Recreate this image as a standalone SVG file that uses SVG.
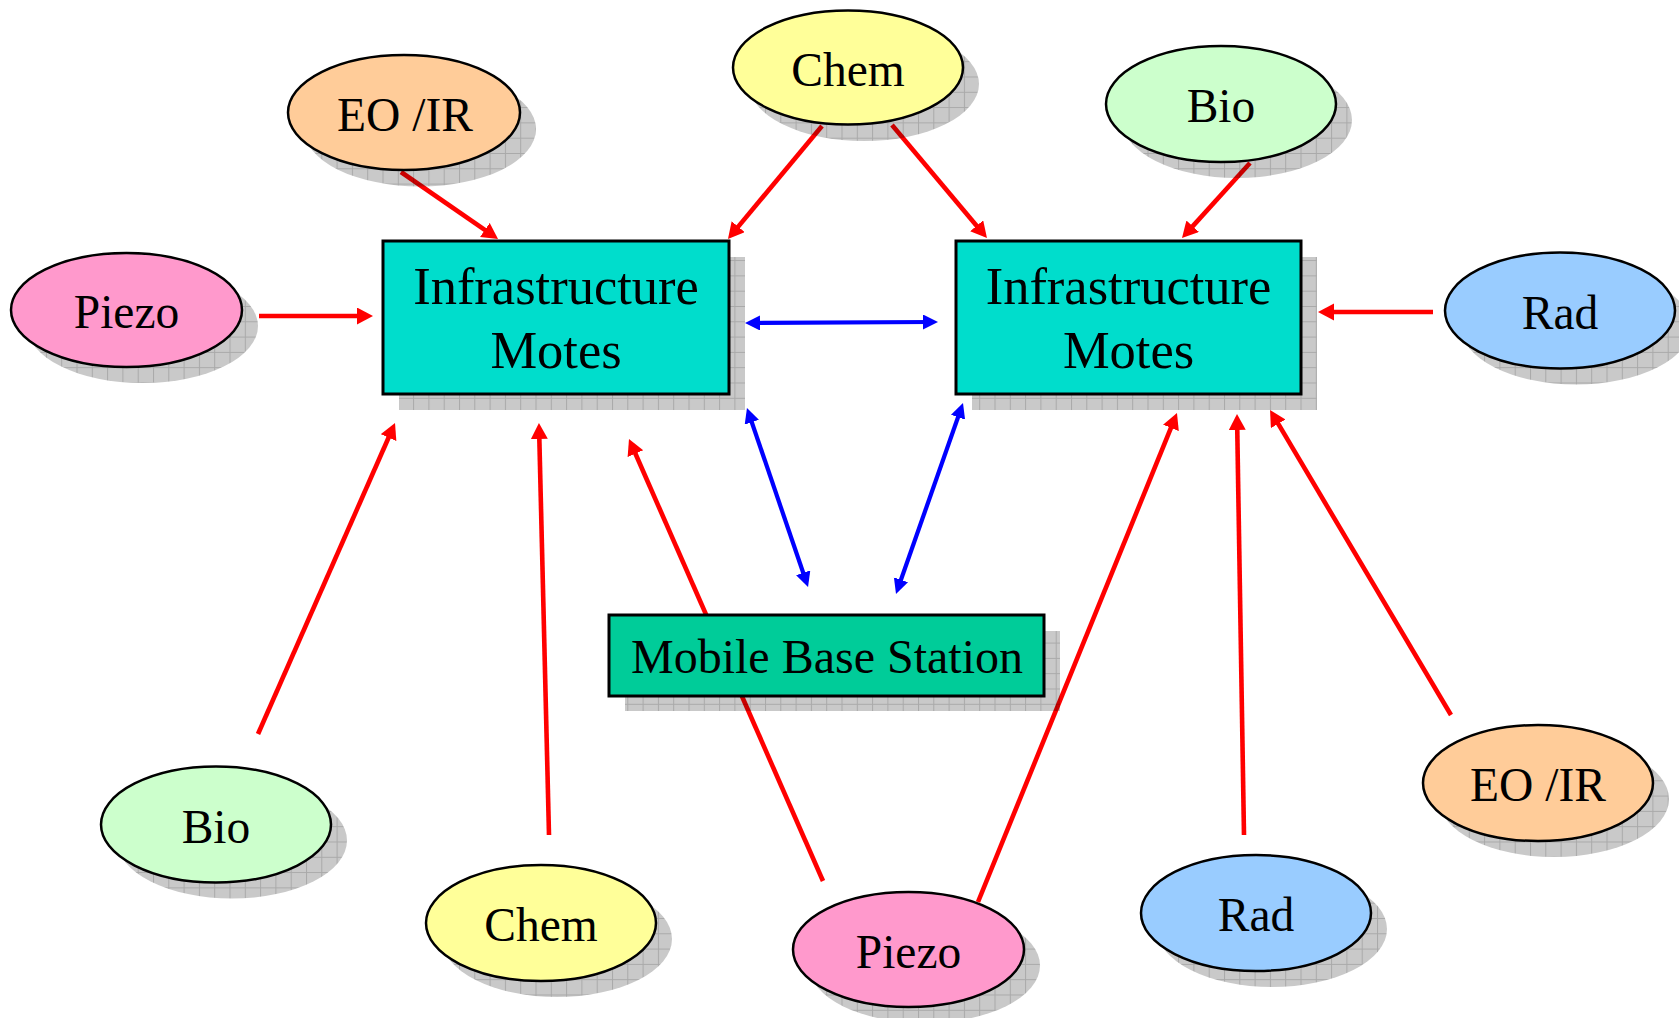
<svg xmlns="http://www.w3.org/2000/svg" width="1679" height="1018" viewBox="0 0 1679 1018">
<style>
.txt{font-family:"Liberation Serif","Times New Roman",serif;fill:#000;text-anchor:middle}
.big{font-size:52.5px}
.mid{font-size:48px}
.ell{font-size:47.5px}
.box{stroke:#000;stroke-width:3}
.oval{stroke:#000;stroke-width:2.5}
.shadow{fill:url(#grid)}
.red{stroke:#ff0000;stroke-width:4.6;fill:none;marker-end:url(#rh)}
.blue{stroke:#0000ff;stroke-width:4.2;fill:none;marker-start:url(#bh);marker-end:url(#bh)}
</style>
<defs>
<pattern id="grid" patternUnits="userSpaceOnUse" width="15.3" height="15.3">
<rect width="15.3" height="15.3" fill="#000" fill-opacity="0.21"/>
<path d="M0,0.5 H15.3 M0.5,0 V15.3" stroke="#000" stroke-opacity="0.16" stroke-width="1"/>
</pattern>
<marker id="rh" markerUnits="userSpaceOnUse" markerWidth="17" markerHeight="18" refX="10" refY="8.5" orient="auto">
<path d="M0,0 L16,8.5 L0,17 z" fill="#ff0000"/>
</marker>
<marker id="bh" markerUnits="userSpaceOnUse" markerWidth="17" markerHeight="16" refX="9" refY="7.5" orient="auto-start-reverse">
<path d="M0,0 L15,7.5 L0,15 z" fill="#0000ff"/>
</marker>
</defs>
<rect width="1679" height="1018" fill="#fff"/>

<g id="connectors">
<line class="red" x1="401" y1="172" x2="493.1" y2="235.6"/>
<line class="red" x1="822" y1="126" x2="731.8" y2="234.4"/>
<line class="red" x1="892" y1="125" x2="983.1" y2="233.4"/>
<line class="red" x1="1250" y1="163" x2="1186" y2="233.6"/>
<line class="red" x1="259" y1="316" x2="367" y2="316"/>
<line class="red" x1="1433" y1="312" x2="1324" y2="312"/>
<line class="red" x1="258" y1="734" x2="392.6" y2="428.5"/>
<line class="red" x1="549" y1="835" x2="539.1" y2="429"/>
<line class="red" x1="823" y1="881" x2="631.4" y2="444.5"/>
<line class="red" x1="978" y1="902" x2="1174.7" y2="418.6"/>
<line class="red" x1="1244" y1="835" x2="1237.1" y2="420"/>
<line class="red" x1="1451" y1="715" x2="1273.1" y2="415.2"/>
<line class="blue" x1="751" y1="323" x2="932" y2="322"/>
<line class="blue" x1="748.9" y1="413.7" x2="806.1" y2="581.3"/>
<line class="blue" x1="961" y1="408.7" x2="898" y2="588.3"/>
</g>

<g id="infra-left">
<rect class="shadow" x="399" y="257" width="346" height="153"/>
<rect class="box" x="383" y="241" width="346" height="153" fill="#00ddcc"/>
<text class="txt big" x="556" y="304">Infrastructure</text>
<text class="txt big" x="556" y="368">Motes</text>
</g>

<g id="infra-right">
<rect class="shadow" x="972" y="257" width="345" height="153"/>
<rect class="box" x="956" y="241" width="345" height="153" fill="#00ddcc"/>
<text class="txt big" x="1128.5" y="304">Infrastructure</text>
<text class="txt big" x="1128.5" y="368">Motes</text>
</g>

<g id="mobile-base">
<rect class="shadow" x="625" y="631" width="435" height="80"/>
<rect class="box" x="609" y="615" width="435" height="81" fill="#00cc99"/>
<text class="txt mid" x="827" y="673">Mobile Base Station</text>
</g>

<g id="eoir-top">
<ellipse class="shadow" cx="420" cy="129" rx="116" ry="57.5"/>
<ellipse class="oval" cx="404" cy="112.5" rx="116" ry="57.5" fill="#ffcc99"/>
<text class="txt ell" x="405" y="131">EO /IR</text>
</g>

<g id="chem-top">
<ellipse class="shadow" cx="864" cy="84" rx="115" ry="57"/>
<ellipse class="oval" cx="848" cy="67.5" rx="115" ry="57" fill="#ffff99"/>
<text class="txt ell" x="848" y="86">Chem</text>
</g>

<g id="bio-top">
<ellipse class="shadow" cx="1237" cy="120" rx="115" ry="58"/>
<ellipse class="oval" cx="1221" cy="104" rx="115" ry="58" fill="#ccffcc"/>
<text class="txt ell" x="1221" y="122">Bio</text>
</g>

<g id="piezo-left">
<ellipse class="shadow" cx="142.5" cy="326" rx="115.5" ry="57"/>
<ellipse class="oval" cx="126.5" cy="310" rx="115.5" ry="57" fill="#ff99cc"/>
<text class="txt ell" x="126.5" y="328">Piezo</text>
</g>

<g id="rad-right">
<ellipse class="shadow" cx="1576" cy="326.5" rx="115" ry="58"/>
<ellipse class="oval" cx="1560" cy="310.5" rx="115" ry="58" fill="#99ccff"/>
<text class="txt ell" x="1560" y="329">Rad</text>
</g>

<g id="bio-bottom">
<ellipse class="shadow" cx="232" cy="840.5" rx="115" ry="58"/>
<ellipse class="oval" cx="216" cy="824.5" rx="115" ry="58" fill="#ccffcc"/>
<text class="txt ell" x="216" y="843">Bio</text>
</g>

<g id="chem-bottom">
<ellipse class="shadow" cx="557" cy="939" rx="115" ry="58"/>
<ellipse class="oval" cx="541" cy="923" rx="115" ry="58" fill="#ffff99"/>
<text class="txt ell" x="541" y="941">Chem</text>
</g>

<g id="piezo-bottom">
<ellipse class="shadow" cx="924.5" cy="965.5" rx="115.5" ry="57.5"/>
<ellipse class="oval" cx="908.5" cy="949.5" rx="115.5" ry="57.5" fill="#ff99cc"/>
<text class="txt ell" x="908.5" y="968">Piezo</text>
</g>

<g id="rad-bottom">
<ellipse class="shadow" cx="1272" cy="929" rx="115" ry="58"/>
<ellipse class="oval" cx="1256" cy="913" rx="115" ry="58" fill="#99ccff"/>
<text class="txt ell" x="1256" y="931">Rad</text>
</g>

<g id="eoir-bottom">
<ellipse class="shadow" cx="1554" cy="799" rx="115" ry="58"/>
<ellipse class="oval" cx="1538" cy="783" rx="115" ry="58" fill="#ffcc99"/>
<text class="txt ell" x="1538" y="801">EO /IR</text>
</g>
</svg>
